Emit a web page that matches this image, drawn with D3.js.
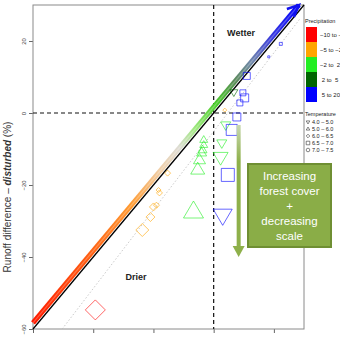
<!DOCTYPE html>
<html>
<head>
<meta charset="utf-8">
<script src="https://cdn.jsdelivr.net/npm/d3@7"></script>
<style>
    body { margin: 0; background: #fff; }
    svg { display: block; font-family: "Liberation Sans", Arial, sans-serif; }
</style>
</head>
<body>
<div id="chart"></div>
<script>
    //Runoff difference chart
    var xTicks = [-60, -40, -20, 0, 20];
    var yTicks = [-60, -40, -20, 0, 20];

    var precipClasses = ["\u221210 to \u22125", "\u22125 to \u22122", "\u22122 to  2", " 2 to  5", " 5 to 20"];
    var precipColours = ["#ff0000", "#ffa500", "#22ee22", "#006400", "#0000ff"];
    var tempClasses = ["4.0 \u2013 5.0", "5.0 \u2013 6.0", "6.0 \u2013 6.5", "6.5 \u2013 7.0", "7.0 \u2013 7.5"];

    //points: change in x, change in y, precipitation class, temperature class, catchment scale
    var ptX = [-39.3, -23.7, -21.0, -20.0, -19.0, -18.0, -18.3, -15.3, 3.7,
        -3.3, -3.3, -3.7, -4.0, -4.7, -5.3, -6.7,
        2.7, 2.3, 4.0, 6.7,
        11.0, 9.7, 10.3, 8.7, 7.7, 6.0, 4.7, 3.0, 22.3, 18.3];
    var ptY = [-54.7, -32.5, -28.9, -26.1, -25.6, -22.2, -21.4, -16.7, 0.8,
        -7.5, -8.9, -10.3, -11.1, -13.1, -15.8, -27.5,
        -8.3, -12.2, -3.3, 5.8,
        10.3, 5.6, 4.2, 2.8, -1.1, -4.7, -17.2, -28.3, 19.2, 15.6];
    var ptPrecip = [0, 1, 1, 1, 1, 1, 1, 1, 1,
        2, 2, 2, 2, 2, 2, 2,
        2, 2, 2, 3,
        4, 4, 4, 4, 4, 4, 4, 4, 4, 4];
    var ptTemp = [2, 2, 2, 2, 2, 2, 2, 2, 2,
        1, 1, 1, 1, 1, 1, 1,
        0, 0, 0, 0,
        3, 3, 3, 3, 3, 3, 3, 0, 3, 3];
    var ptScale = [10, 6.5, 4.5, 4, 3, 3, 2.5, 3, 2,
        4, 4, 4.5, 5, 6, 7, 10,
        5, 7.5, 5, 4,
        3.5, 3, 4, 3, 4, 5.5, 6.5, 9.5, 1.5, 1];

    //1:1 line, shifted trend arrow, and dotted fit line (data units)
    var oneToOne = [[-60, -60], [30, 30]];
    var trendArrow = [[-60, -58.3], [28.3, 30]];
    var fitLine = [[-50.3, -60], [28.5, 26]];

    (function () {
        "use strict";

        var width = 340, height = 339;
        var svg = d3.select("#chart").append("svg")
            .attr("width", width)
            .attr("height", height);

        var x = d3.scaleLinear().domain([-60, 30]).range([33, 304]);
        var y = d3.scaleLinear().domain([-60, 30]).range([329, 5]);
        var r = d3.scaleLinear().domain([0, 10]).range([0, 10]);

        var defs = svg.append("defs");

        //Gradient along the trend arrow
        var grad = defs.append("linearGradient")
            .attr("id", "trendGrad")
            .attr("gradientUnits", "userSpaceOnUse")
            .attr("x1", x(trendArrow[0][0])).attr("y1", y(trendArrow[0][1]))
            .attr("x2", x(trendArrow[1][0])).attr("y2", y(trendArrow[1][1]));
        [[0, "#ff1a00"], [0.2, "#ff5a10"], [0.37, "#ff9a30"], [0.48, "#f0cfa8"],
            [0.55, "#dedcd4"], [0.61, "#a0e880"], [0.69, "#48cc28"], [0.76, "#5a8a58"],
            [0.82, "#7088a8"], [0.9, "#3838dd"], [1, "#0000ff"]].forEach(function (s) {
                grad.append("stop").attr("offset", s[0]).attr("stop-color", s[1]);
            });

        var greenArrowGrad = defs.append("linearGradient")
            .attr("id", "greenArrowGrad")
            .attr("x1", 0).attr("y1", 0).attr("x2", 0).attr("y2", 1);
        greenArrowGrad.append("stop").attr("offset", 0).attr("stop-color", "#c8d8b0");
        greenArrowGrad.append("stop").attr("offset", 0.3).attr("stop-color", "#8eb04a");
        greenArrowGrad.append("stop").attr("offset", 1).attr("stop-color", "#8eb04a");

        //Axes
        var yAxis = d3.axisLeft(y).tickValues(yTicks).tickSize(4).tickPadding(3);
        var gy = svg.append("g").attr("transform", "translate(33,0)").call(yAxis);
        gy.selectAll("text")
            .attr("transform", "rotate(-90,-9,0)")
            .attr("x", -9).attr("y", 0)
            .attr("dy", "0.32em")
            .attr("text-anchor", "middle")
            .style("font-size", "6px").style("fill", "#444");

        var xAxis = d3.axisBottom(x).tickValues(xTicks).tickSize(4).tickPadding(6);
        var gx = svg.append("g").attr("transform", "translate(0,329)").call(xAxis);
        gx.selectAll("text").style("font-size", "6px").style("fill", "#444");

        [gx, gy].forEach(function (g) {
            g.select(".domain").remove();
            g.selectAll("line").attr("stroke", "#666");
        });

        //Plot frame
        svg.append("rect")
            .attr("x", 33).attr("y", 5)
            .attr("width", 304 - 33).attr("height", 329 - 5)
            .attr("fill", "none").attr("stroke", "#8a8a8a").attr("stroke-width", 1);

        //Zero lines
        svg.append("line")
            .attr("x1", x(-60)).attr("x2", x(30))
            .attr("y1", y(0)).attr("y2", y(0))
            .attr("stroke", "#111").attr("stroke-width", 1.2).attr("stroke-dasharray", "4,3");
        svg.append("line")
            .attr("x1", x(0)).attr("x2", x(0))
            .attr("y1", y(30)).attr("y2", y(-60))
            .attr("stroke", "#111").attr("stroke-width", 1.2).attr("stroke-dasharray", "4,3");

        var line = d3.line()
            .x(function (d) { return x(d[0]); })
            .y(function (d) { return y(d[1]); });

        //Dotted fit line
        svg.append("path").datum(fitLine)
            .attr("d", line)
            .attr("fill", "none").attr("stroke", "#bbb")
            .attr("stroke-width", 0.8).attr("stroke-dasharray", "1.5,2");

        //1:1 line
        svg.append("path").datum(oneToOne)
            .attr("d", line)
            .attr("fill", "none").attr("stroke", "#000").attr("stroke-width", 1.3);

        //Trend arrow
        svg.append("path").datum(trendArrow)
            .attr("d", line)
            .attr("fill", "none").attr("stroke", "url(#trendGrad)").attr("stroke-width", 5);
        svg.append("path").datum(trendArrow)
            .attr("d", line)
            .attr("fill", "none").attr("stroke", "#fff").attr("stroke-opacity", 0.25)
            .attr("stroke-width", 1.2);
        var tip = trendArrow[1];
        var tx = x(tip[0]), ty = y(tip[1]);
        svg.append("path")
            .attr("d", "M" + (tx - 12) + "," + (ty + 4) + "L" + tx + "," + ty + "L" + (tx - 5) + "," + (ty + 12))
            .attr("fill", "none").attr("stroke", "#1010ee").attr("stroke-width", 2.5)
            .attr("stroke-linejoin", "miter");

        //Point symbols
        function shape(t, h) {
            switch (t) {
                case 0: return "M" + (-h) + "," + (-h * 0.6) + "L" + h + "," + (-h * 0.6) + "L0," + (h * 1.1) + "Z";
                case 1: return "M" + (-h) + "," + (h * 0.6) + "L" + h + "," + (h * 0.6) + "L0," + (-h * 1.1) + "Z";
                case 2: return "M0," + (-h) + "L" + h + ",0L0," + h + "L" + (-h) + ",0Z";
                case 3: return "M" + (-h) + "," + (-h) + "H" + h + "V" + h + "H" + (-h) + "Z";
                default: return d3.symbol(d3.symbolCircle, Math.PI * h * h)();
            }
        }

        var pts = ptX.map(function (v, i) {
            return { x: v, y: ptY[i], p: ptPrecip[i], t: ptTemp[i], s: ptScale[i] };
        });

        svg.append("g").selectAll("path")
            .data(pts)
            .enter().append("path")
            .attr("transform", function (d) { return "translate(" + x(d.x) + "," + y(d.y) + ")"; })
            .attr("d", function (d) { return shape(d.t, r(d.s)); })
            .attr("fill", "none")
            .attr("stroke", function (d) { return precipColours[d.p]; })
            .attr("stroke-opacity", 0.6)
            .attr("stroke-width", 1);

        //Annotations
        svg.append("text").attr("x", 241).attr("y", 36)
            .attr("text-anchor", "middle").style("font-size", "9px").style("font-weight", "bold")
            .style("fill", "#222").text("Wetter");
        svg.append("text").attr("x", 136).attr("y", 280)
            .attr("text-anchor", "middle").style("font-size", "9px").style("font-weight", "bold")
            .style("fill", "#222").text("Drier");

        //Y axis title
        var yt = svg.append("text")
            .attr("transform", "translate(11,197) rotate(-90)")
            .attr("text-anchor", "middle")
            .style("font-size", "10px").style("fill", "#333");
        yt.append("tspan").text("Runoff difference \u2013 ");
        yt.append("tspan").style("font-weight", "bold").style("font-style", "italic").text("disturbed");
        yt.append("tspan").text(" (%)");

        //Legend - precipitation
        var leg = svg.append("g");
        leg.append("text").attr("x", 305).attr("y", 23)
            .style("font-size", "5.5px").style("fill", "#222").text("Precipitation");
        precipClasses.forEach(function (c, i) {
            leg.append("rect")
                .attr("x", 306).attr("y", 27 + i * 15)
                .attr("width", 11).attr("height", 15)
                .attr("fill", precipColours[i]);
            leg.append("text")
                .attr("x", 320).attr("y", 27 + i * 15 + 9.5)
                .style("font-size", "6px").style("fill", "#222")
                .style("white-space", "pre").attr("xml:space", "preserve")
                .text(c);
        });

        //Legend - temperature
        leg.append("text").attr("x", 305).attr("y", 116)
            .style("font-size", "5.5px").style("fill", "#222").text("Temperature");
        tempClasses.forEach(function (c, i) {
            var cy = 122 + i * 7;
            leg.append("path")
                .attr("transform", "translate(308," + cy + ")")
                .attr("d", shape(i, 1.8))
                .attr("fill", "none").attr("stroke", "#333").attr("stroke-width", 0.6);
            leg.append("text")
                .attr("x", 312).attr("y", cy + 2)
                .style("font-size", "5.5px").style("fill", "#222").text(c);
        });

        //Green arrow and box
        var gax = x(8.3);
        svg.append("rect")
            .attr("x", gax - 2).attr("y", 125).attr("width", 4).attr("height", 122)
            .attr("fill", "url(#greenArrowGrad)");
        svg.append("path")
            .attr("d", "M" + (gax - 6) + ",246L" + (gax + 6) + ",246L" + gax + ",257Z")
            .attr("fill", "#8eb04a");

        svg.append("rect")
            .attr("x", 248).attr("y", 164)
            .attr("width", 83).attr("height", 83)
            .attr("fill", "#8aad47").attr("stroke", "#6f8f33").attr("stroke-width", 2);
        ["Increasing", "forest cover", "+", "decreasing", "scale"].forEach(function (t, i) {
            svg.append("text")
                .attr("x", 289.5).attr("y", 180 + i * 15)
                .attr("text-anchor", "middle")
                .style("font-size", "11.5px").style("fill", "#fff")
                .text(t);
        });
    })();
</script>
</body>
</html>
